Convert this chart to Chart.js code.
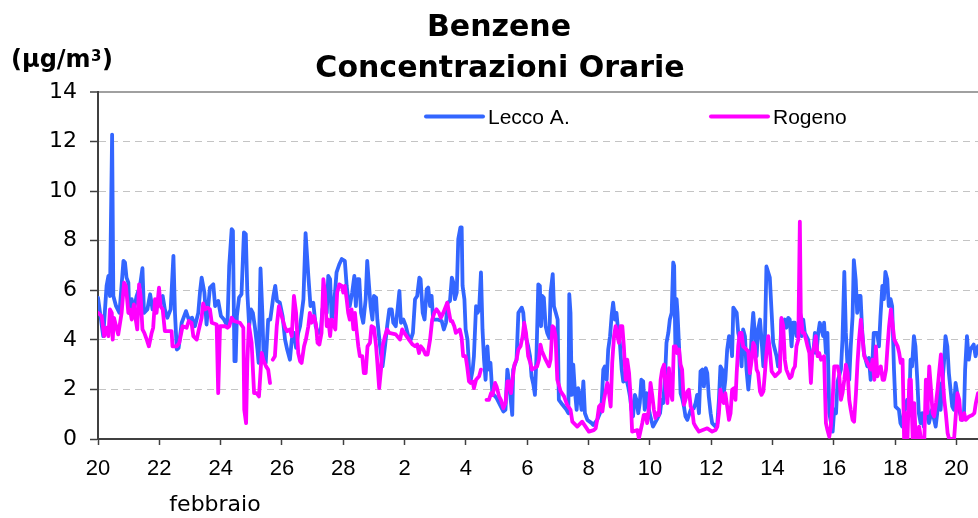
<!DOCTYPE html>
<html>
<head>
<meta charset="utf-8">
<script src="https://cdn.jsdelivr.net/npm/chart.js@4.4.1/dist/chart.umd.min.js"></script>
<style>
html,body{margin:0;padding:0;background:#fff;}
#wrap{width:978px;height:518px;position:relative;}
</style>
</head>
<body>
<div id="wrap"><canvas id="c" width="978" height="518"></canvas></div>
<script>
// ---- data (day offset from 20 February, hourly concentrations in µg/m³) ----
const leccoDay = [0.00,0.17,0.28,0.34,0.39,0.46,0.50,0.59,0.70,0.83,0.88,0.93,0.99,1.02,1.10,1.15,1.26,1.37,1.45,1.50,1.61,1.70,1.78,1.91,2.02,2.11,2.18,2.26,2.37,2.46,2.51,2.57,2.63,2.73,2.87,2.96,3.07,3.16,3.27,3.33,3.38,3.47,3.54,3.65,3.76,3.82,3.92,4.01,4.11,4.22,4.28,4.36,4.40,4.45,4.49,4.53,4.60,4.68,4.76,4.82,4.87,4.93,4.99,5.05,5.12,5.20,5.24,5.30,5.36,5.40,5.47,5.55,5.62,5.72,5.78,5.84,5.93,6.02,6.10,6.17,6.26,6.32,6.39,6.46,6.53,6.59,6.70,6.77,6.86,6.93,7.02,7.10,7.18,7.26,7.32,7.38,7.46,7.51,7.57,7.62,7.67,7.73,7.78,7.87,7.95,8.05,8.11,8.16,8.21,8.29,8.36,8.41,8.46,8.52,8.58,8.65,8.73,8.78,8.84,8.89,8.95,9.00,9.07,9.11,9.20,9.28,9.36,9.43,9.50,9.58,9.63,9.71,9.77,9.83,9.88,9.96,10.04,10.12,10.20,10.27,10.34,10.41,10.48,10.52,10.59,10.65,10.72,10.77,10.83,10.88,10.93,11.07,11.21,11.28,11.35,11.40,11.48,11.54,11.59,11.64,11.70,11.75,11.82,11.86,11.89,11.95,11.99,12.05,12.11,12.16,12.22,12.26,12.33,12.38,12.43,12.49,12.54,12.59,12.64,12.70,12.75,12.80,12.86,13.00,13.14,13.22,13.29,13.35,13.40,13.46,13.51,13.54,13.65,13.71,13.82,13.87,13.92,14.03,14.09,14.14,14.20,14.25,14.30,14.36,14.41,14.45,14.49,14.54,14.60,14.65,14.72,14.76,14.83,14.87,14.93,14.99,15.03,15.15,15.28,15.34,15.37,15.41,15.45,15.50,15.55,15.61,15.66,15.72,15.77,15.83,15.88,15.96,16.10,16.15,16.28,16.37,16.42,16.48,16.53,16.59,16.64,16.70,16.75,16.80,16.86,16.91,16.97,17.02,17.08,17.13,17.24,17.29,17.35,17.40,17.45,17.51,17.56,17.62,17.67,17.72,17.78,17.83,17.89,17.94,17.99,18.10,18.22,18.33,18.38,18.43,18.49,18.54,18.60,18.65,18.71,18.76,18.79,18.83,18.87,18.90,18.95,19.00,19.05,19.11,19.16,19.22,19.33,19.43,19.49,19.54,19.60,19.65,19.71,19.76,19.82,19.87,19.92,19.98,20.03,20.14,20.20,20.25,20.30,20.36,20.41,20.46,20.52,20.58,20.63,20.68,20.72,20.83,20.88,20.93,20.99,21.04,21.10,21.15,21.21,21.26,21.32,21.37,21.42,21.48,21.53,21.59,21.64,21.70,21.75,21.80,21.86,21.91,21.97,22.02,22.13,22.18,22.24,22.29,22.35,22.40,22.45,22.51,22.56,22.62,22.67,22.73,22.78,22.84,22.95,23.00,23.05,23.16,23.22,23.33,23.38,23.43,23.49,23.54,23.65,23.68,23.74,23.79,23.85,23.96,24.01,24.07,24.12,24.23,24.28,24.34,24.39,24.45,24.50,24.55,24.61,24.65,24.71,24.76,24.82,24.87,24.92,24.98,25.09,25.14,25.20,25.25,25.30,25.41,25.47,25.52,25.58,25.63,25.68,25.74,25.79,25.85,25.90,25.96,26.01,26.12,26.17,26.23,26.28,26.39,26.45,26.50,26.55,26.61,26.66,26.72,26.77,26.83,26.88,26.93,26.99,27.04,27.10,27.20,27.32,27.37,27.42,27.48,27.53,27.59,27.64,27.70,27.75,27.86,27.91,27.97,28.02,28.08,28.18,28.24,28.28,28.34,28.40,28.45,28.56,28.62,28.70];
const leccoVal = [5.70,4.15,6.18,6.58,5.77,12.28,5.77,5.36,5.09,7.19,7.12,6.51,6.31,5.09,5.64,5.09,5.77,6.18,6.89,5.09,5.23,5.84,5.23,5.50,5.64,5.77,5.23,4.89,5.23,7.39,5.09,3.61,3.68,4.69,5.16,4.82,4.89,4.55,5.09,5.97,6.51,5.91,4.62,6.11,6.24,5.36,5.57,4.96,4.82,4.55,6.99,8.47,8.40,3.14,3.14,4.96,5.70,5.84,8.34,8.27,5.91,4.55,5.23,5.09,4.49,3.61,3.07,6.88,5.09,3.34,3.07,4.82,4.82,5.77,6.18,5.57,5.50,4.96,4.01,3.61,3.20,4.01,4.28,3.68,4.28,4.55,5.64,8.31,6.58,5.36,5.50,4.55,4.28,4.28,5.23,5.50,5.09,6.58,6.45,4.82,5.09,5.91,6.72,7.05,7.26,7.19,6.18,5.64,5.36,5.91,6.58,5.36,6.45,6.45,5.09,4.69,5.64,7.19,6.18,5.36,4.82,5.77,5.70,4.82,3.74,2.93,3.74,4.55,5.23,5.23,4.69,4.55,5.23,5.97,4.69,4.82,4.55,4.15,4.01,4.28,5.64,5.77,6.51,6.45,5.09,4.82,6.04,6.11,5.36,5.77,4.82,4.82,4.76,4.42,4.69,5.50,5.57,6.51,6.31,5.64,5.91,8.07,8.54,8.54,6.18,5.64,4.42,4.01,2.66,2.39,2.80,3.34,5.36,5.09,5.23,6.72,4.42,3.20,2.39,3.74,2.80,3.07,1.85,1.65,1.31,1.11,1.18,2.80,2.39,1.58,0.97,2.80,3.20,5.09,5.30,5.09,4.28,3.74,3.34,2.53,2.19,1.78,3.34,6.24,6.18,4.55,5.77,5.70,4.55,4.28,4.08,5.91,6.65,5.36,5.09,4.82,1.58,1.38,1.18,1.04,5.84,5.09,1.78,3.00,1.99,1.18,2.05,1.72,1.18,2.32,1.04,0.77,0.64,0.57,0.77,1.04,1.31,2.80,2.93,2.39,3.61,4.15,4.96,5.50,4.82,5.09,4.28,3.88,2.80,2.32,2.39,2.12,1.72,1.18,0.91,1.78,1.58,1.04,1.45,2.39,2.32,1.18,1.85,1.38,1.04,0.50,0.77,1.04,1.58,1.45,2.39,3.88,4.28,4.82,5.09,7.12,6.99,3.74,5.64,5.09,3.74,1.85,1.65,1.31,0.91,0.77,1.18,1.24,1.45,1.78,1.04,2.73,2.80,2.12,2.86,2.66,1.72,1.04,0.64,0.50,0.64,1.58,2.93,2.80,1.85,2.39,3.61,4.15,4.01,3.34,5.30,5.09,4.28,4.01,2.93,4.42,4.15,2.80,1.99,2.66,4.28,5.09,4.28,3.34,4.42,4.82,4.01,2.93,4.01,6.96,6.72,6.51,5.09,3.88,3.34,2.93,3.20,4.82,4.55,4.82,4.49,4.89,4.82,3.74,4.69,4.69,4.15,4.55,4.15,4.82,4.28,4.01,3.47,3.47,4.28,3.47,4.28,4.69,4.15,4.69,3.47,4.28,1.04,0.30,1.18,1.04,2.32,2.80,4.01,6.74,4.28,2.80,2.39,3.74,4.96,7.22,6.45,5.09,5.77,5.77,4.42,3.47,2.93,3.27,2.39,2.93,4.28,4.28,3.74,4.96,6.18,5.64,6.74,6.45,5.36,5.64,5.36,2.80,1.31,1.18,0.64,0.50,1.04,1.58,1.04,3.20,2.93,4.15,3.74,2.39,1.04,0.64,1.04,0.50,1.04,1.45,0.64,1.18,0.50,1.04,2.26,1.18,2.12,3.07,4.15,3.74,2.66,1.31,1.18,2.26,1.85,1.18,0.77,0.91,2.80,4.15,3.20,3.61,3.81,3.34,3.74];

const rogenoDay = [0.00,0.12,0.20,0.28,0.34,0.39,0.45,0.48,0.52,0.59,0.66,0.72,0.77,0.85,0.91,0.99,1.04,1.10,1.17,1.23,1.28,1.34,1.39,1.45,1.51,1.59,1.66,1.75,1.80,1.86,1.91,1.99,2.04,2.11,2.18,2.40,2.43,2.57,2.65,2.76,2.89,2.96,3.05,3.11,3.22,3.29,3.38,3.43,3.49,3.57,3.65,3.71,3.87,3.92,3.98,4.14,4.22,4.28,4.36,4.43,4.63,4.74,4.77,4.83,4.87,4.92,5.01,5.09,5.17,5.25,5.34,5.39,5.48,5.55,5.61,5.65,5.70,5.77,5.83,5.90,5.99,6.10,6.17,6.26,6.32,6.39,6.46,6.53,6.59,6.64,6.72,6.78,6.86,6.91,6.97,7.04,7.11,7.16,7.22,7.29,7.35,7.40,7.46,7.51,7.57,7.62,7.74,7.80,7.87,7.95,8.00,8.05,8.11,8.16,8.21,8.27,8.33,8.38,8.43,8.49,8.54,8.62,8.67,8.73,8.79,8.87,8.92,9.00,9.07,9.12,9.17,9.23,9.28,9.36,9.43,9.50,9.71,9.85,9.92,9.99,10.14,10.26,10.34,10.41,10.47,10.53,10.61,10.68,10.75,10.83,10.90,10.97,11.04,11.12,11.18,11.26,11.39,11.45,11.50,11.55,11.62,11.67,11.80,11.86,11.91,11.99,12.04,12.10,12.15,12.22,12.26,12.33,12.43,12.49,12.58,12.67,12.75,12.82,12.87,12.95,13.00,13.08,13.14,13.22,13.29,13.35,13.41,13.47,13.52,13.58,13.65,13.71,13.78,13.85,13.90,13.96,14.03,14.10,14.15,14.32,14.38,14.43,14.48,14.60,14.71,14.76,14.82,14.87,14.92,14.98,15.09,15.20,15.30,15.41,15.47,15.63,15.79,15.90,16.01,16.17,16.23,16.28,16.34,16.39,16.45,16.50,16.61,16.66,16.72,16.77,16.83,16.88,16.93,16.99,17.04,17.10,17.15,17.21,17.26,17.32,17.37,17.42,17.59,17.64,17.70,17.75,17.80,17.86,17.91,17.97,18.02,18.08,18.13,18.18,18.24,18.29,18.35,18.40,18.46,18.51,18.57,18.62,18.67,18.73,18.78,18.84,18.89,18.95,19.00,19.05,19.11,19.16,19.22,19.27,19.33,19.38,19.43,19.49,19.60,19.87,20.03,20.14,20.20,20.25,20.30,20.36,20.41,20.46,20.52,20.58,20.63,20.68,20.74,20.79,20.83,20.88,20.93,20.99,21.04,21.21,21.26,21.32,21.37,21.42,21.48,21.53,21.59,21.64,21.70,21.75,21.80,21.86,21.91,21.97,22.08,22.24,22.29,22.35,22.40,22.45,22.56,22.62,22.67,22.73,22.78,22.84,22.89,22.92,22.98,23.03,23.09,23.14,23.20,23.25,23.30,23.36,23.41,23.47,23.52,23.58,23.68,23.74,23.79,23.85,23.90,23.96,24.01,24.12,24.17,24.23,24.28,24.34,24.39,24.45,24.50,24.55,24.61,24.66,24.72,24.77,24.82,24.88,24.93,24.99,25.15,25.21,25.26,25.32,25.37,25.42,25.48,25.53,25.59,25.64,25.70,25.75,25.80,25.86,25.91,25.97,26.08,26.13,26.18,26.24,26.29,26.35,26.40,26.46,26.51,26.57,26.62,26.67,26.73,26.78,26.84,26.95,27.00,27.05,27.11,27.16,27.22,27.27,27.33,27.38,27.43,27.49,27.54,27.60,27.65,27.71,27.76,27.92,27.98,28.03,28.09,28.14,28.20,28.25,28.30,28.41,28.52,28.58,28.63,28.70];
const rogenoVal = [5.09,4.96,4.15,4.49,4.15,5.23,5.09,4.01,4.89,4.55,4.22,4.69,5.09,6.31,6.18,5.09,5.23,4.82,5.43,4.82,4.42,6.24,5.77,4.42,4.28,4.01,3.74,4.28,4.49,5.64,5.09,6.11,5.36,5.23,4.35,4.35,3.74,3.74,3.88,4.55,4.49,4.76,4.69,4.15,4.01,4.42,4.89,5.47,5.23,5.30,5.23,4.69,4.62,1.85,4.55,4.55,4.49,4.55,4.89,4.76,4.69,4.49,1.18,0.64,3.07,4.62,3.88,1.85,1.85,1.72,3.47,3.20,2.93,2.80,2.26,null,3.20,3.34,4.55,5.36,4.96,4.49,4.35,4.42,4.15,5.77,5.09,3.47,3.14,3.07,3.74,4.01,4.55,5.09,4.69,4.96,4.62,3.88,3.81,4.28,6.45,5.91,4.55,4.82,4.15,4.82,4.42,5.91,6.24,6.18,5.91,6.18,5.64,5.09,4.82,5.23,4.42,5.09,4.42,3.74,3.34,3.34,2.66,2.66,3.74,3.88,4.55,4.49,3.74,2.93,2.05,2.80,3.74,4.15,4.42,4.28,4.22,4.01,4.42,4.28,4.01,3.81,3.74,3.81,3.47,3.74,3.61,3.41,3.41,4.01,4.82,5.09,5.23,5.09,4.89,5.09,5.50,5.09,4.76,4.76,4.55,4.28,4.42,4.08,3.34,3.34,2.93,2.32,2.26,2.32,2.05,2.39,2.53,2.80,null,1.58,1.58,1.85,1.78,2.26,2.12,1.72,1.58,1.24,1.45,2.32,2.32,1.85,2.39,3.00,3.20,3.61,3.74,4.15,4.69,4.28,3.34,3.07,2.80,2.93,3.20,3.81,3.54,3.20,2.93,3.20,4.55,4.49,4.15,2.39,1.92,1.72,1.38,1.18,0.70,0.50,0.70,0.50,0.30,0.36,0.43,0.77,1.31,1.38,1.11,1.58,2.26,1.92,1.31,3.07,4.15,4.55,4.22,3.88,4.55,4.55,3.74,2.39,3.20,2.66,1.72,0.30,0.36,0.03,0.36,0.64,0.97,0.97,0.64,1.31,2.26,1.72,1.18,0.84,1.04,0.97,2.39,2.80,3.00,2.12,1.45,2.86,1.92,1.58,3.74,3.74,3.47,3.61,3.00,2.80,1.38,1.58,1.92,1.99,1.31,1.18,0.64,0.50,0.30,0.43,0.30,0.36,0.50,1.04,1.99,1.58,1.45,1.85,1.31,0.77,1.04,1.99,2.05,1.58,2.66,3.74,4.28,4.28,3.74,3.54,2.66,3.20,3.88,3.74,2.80,2.66,1.92,1.78,1.92,2.66,3.47,4.15,3.61,2.73,2.53,2.73,4.89,4.55,3.20,2.80,2.46,2.53,2.80,2.93,3.74,4.01,8.77,5.09,4.28,4.28,4.01,3.74,3.47,2.26,3.47,3.74,4.15,3.34,3.47,3.20,3.34,0.64,0.36,0.09,0.50,1.58,2.93,2.93,2.66,1.58,1.85,2.39,3.00,2.66,1.58,1.18,0.77,0.70,1.85,3.07,4.01,4.82,4.15,3.34,2.93,2.80,3.20,2.39,3.74,2.53,2.80,2.93,2.39,2.39,2.80,3.74,4.55,5.23,4.69,4.01,3.74,3.47,3.07,3.20,0,1.04,0,2.39,2.39,0,1.45,0,0,0.50,0,0,2.39,1.04,2.93,2.12,1.04,0.91,1.45,1.99,2.66,3.41,2.66,1.58,1.04,0.23,0,0,1.04,1.85,1.58,0.77,0.77,1.04,0.77,0.91,0.97,1.04,1.45,1.85];

const seriesNames = ['Lecco A.', 'Rogeno'];
const seriesColors = ['#3366ff', '#ff00ff'];
const xTickDays   = [0,2,4,6,8,10,12,14,16,18,20,22,24,26,28];
const xTickLabels = ['20','22','24','26','28','2','4','6','8','10','12','14','16','18','20'];
const yTicks = [0,2,4,6,8,10,12,14];

const titleLines = ['Benzene', 'Concentrazioni Orarie'];
const unitText = '(µg/m';
const unitSup = '3';
const monthLabel = 'febbraio';

function pts(xs, ys){ return xs.map((d,i)=>({x:d, y:ys[i]})); }

const extras = {
  id: 'extras',
  afterDraw(chart){
    const ctx = chart.ctx;
    ctx.save();
    ctx.fillStyle = '#000';
    // title
    ctx.font = 'bold 30px "DejaVu Sans"';
    ctx.textAlign = 'center';
    ctx.textBaseline = 'alphabetic';
    ctx.fillText(titleLines[0], 499, 36);
    ctx.fillText(titleLines[1], 500, 77);
    // unit label
    ctx.textAlign = 'left';
    ctx.font = 'bold 24px "DejaVu Sans"';
    let x = 11;
    ctx.fillText(unitText, x, 67);
    x += ctx.measureText(unitText).width;
    ctx.font = 'bold 15px "DejaVu Sans"';
    ctx.fillText(unitSup, x + 0.5, 61);
    x += ctx.measureText(unitSup).width + 1;
    ctx.font = 'bold 24px "DejaVu Sans"';
    ctx.fillText(')', x, 67);
    // month label
    ctx.font = '22px "DejaVu Sans"';
    ctx.textAlign = 'center';
    ctx.fillText(monthLabel, 215, 511);
    // legend
    const legend = [[426, 483, 488], [711, 768, 773]];
    ctx.lineCap = 'round';
    ctx.lineWidth = 4;
    ctx.font = '21px "Liberation Sans"';
    ctx.textAlign = 'left';
    legend.forEach((l, i) => {
      ctx.strokeStyle = seriesColors[i];
      ctx.beginPath();
      ctx.moveTo(l[0], 116.5);
      ctx.lineTo(l[1], 116.5);
      ctx.stroke();
      ctx.fillText(seriesNames[i], l[2], 124);
    });
    ctx.restore();
  }
};

new Chart(document.getElementById('c'), {
  type: 'line',
  data: {
    datasets: [
      { label: seriesNames[0], data: pts(leccoDay, leccoVal), borderColor: seriesColors[0], order: 2 },
      { label: seriesNames[1], data: pts(rogenoDay, rogenoVal), borderColor: seriesColors[1], order: 1 }
    ]
  },
  options: {
    responsive: false,
    animation: false,
    devicePixelRatio: 1,
    spanGaps: false,
    datasets: { line: { borderWidth: 3.8, pointRadius: 0, tension: 0, borderJoinStyle: 'round', borderCapStyle: 'round', fill: false } },
    layout: { padding: { top: 92, left: 0, right: 0, bottom: 0 } },
    plugins: { legend: { display: false }, title: { display: false }, tooltip: { enabled: false } },
    scales: {
      x: {
        type: 'linear', min: 0, max: 28.7,
        afterBuildTicks: s => { s.ticks = xTickDays.map(v => ({ value: v })); },
        afterFit: s => { s.height = 79; s.paddingLeft = 0; s.paddingRight = 0; },
        ticks: {
          autoSkip: false, maxRotation: 0, padding: 11,
          color: '#000', font: { family: '"Liberation Sans"', size: 22 },
          callback: v => xTickLabels[xTickDays.indexOf(v)]
        },
        grid: { drawOnChartArea: false, drawTicks: true, tickLength: 6, tickColor: '#404040', tickWidth: 1.5 },
        border: { color: '#404040', width: 2 }
      },
      y: {
        min: 0, max: 14,
        afterBuildTicks: s => { s.ticks = yTicks.map(v => ({ value: v })); },
        afterFit: s => { s.width = 98; s.paddingTop = 0; s.paddingBottom = 0; },
        ticks: { padding: 13, color: '#000', font: { family: '"DejaVu Sans"', size: 22 } },
        grid: {
          color: c => c.tick.value === 14 ? '#a0a0a0' : (c.tick.value === 0 ? 'rgba(0,0,0,0)' : '#c4c4c4'),
          lineWidth: c => c.tick.value === 14 ? 2 : 1,
          tickLength: 8, tickColor: '#404040', tickWidth: 1.5
        },
        border: { color: '#404040', width: 2, dash: c => (c.tick && c.tick.value > 0 && c.tick.value < 14) ? [7, 5] : [] }
      }
    }
  },
  plugins: [extras]
});
</script>
</body>
</html>
